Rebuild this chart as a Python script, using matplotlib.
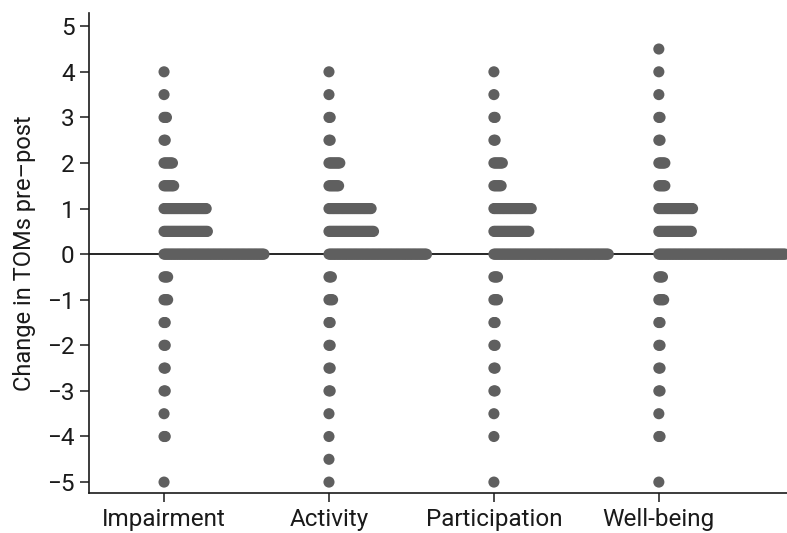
import numpy as np
import matplotlib
matplotlib.use("Agg")
import matplotlib.pyplot as plt

plt.rcParams['font.family'] = ['Roboto', 'DejaVu Sans']

# Outcome domains on the x axis
categories = ["Impairment", "Activity", "Participation", "Well-being"]

# Change scores (half-point steps) from top to bottom
levels = [4.5, 4.0, 3.5, 3.0, 2.5, 2.0, 1.5, 1.0, 0.5, 0.0,
          -0.5, -1.0, -1.5, -2.0, -2.5, -3.0, -3.5, -4.0, -4.5, -5.0]

# Number of patients at each change score, per domain
impairment_counts    = [0, 1, 1, 3, 2, 8, 9, 36, 37, 84, 4, 4, 2, 2, 2, 2, 1, 2, 0, 1]
activity_counts      = [0, 1, 1, 2, 2, 10, 9, 36, 38, 82, 3, 4, 2, 2, 2, 2, 1, 1, 1, 1]
participation_counts = [0, 1, 1, 2, 2, 8, 7, 32, 30, 96, 4, 4, 2, 2, 2, 2, 1, 1, 0, 1]
wellbeing_counts     = [1, 1, 1, 2, 2, 6, 6, 29, 28, 106, 4, 5, 2, 2, 2, 2, 1, 2, 0, 1]

y_ticks = [5, 4, 3, 2, 1, 0, -1, -2, -3, -4, -5]

all_counts = [impairment_counts, activity_counts, participation_counts, wellbeing_counts]

fig = plt.figure(figsize=(7.87, 5.33), dpi=100)
ax = fig.add_axes([0.1135, 0.0750, 0.8865, 0.9006])

dot_color = "#5f5f5f"
dot_step = 0.0073  # horizontal offset between stacked dots (data units)

ax.axhline(0, color="black", lw=1.2, zorder=1)

for i, counts in enumerate(all_counts):
    xs, ys = [], []
    for lvl, n in zip(levels, counts):
        for k in range(n):
            xs.append(i + k * dot_step)
            ys.append(lvl)
    ax.scatter(xs, ys, s=64, color=dot_color, edgecolors="none", zorder=3, clip_on=False)

ax.set_xlim(-0.453, 3.777)
ax.set_ylim(-5.24, 5.29)
ax.set_xticks(range(len(categories)))
ax.set_xticklabels(categories)
ax.set_yticks(y_ticks)
ax.set_yticklabels([str(t).replace('-', '\u2212') for t in y_ticks])
ax.set_ylabel("Change in TOMs pre\u2013post", fontsize=17, color="#1a1a1a", labelpad=8)

for side in ("top", "right"):
    ax.spines[side].set_visible(False)
for side in ("left", "bottom"):
    ax.spines[side].set_linewidth(1.2)
    ax.spines[side].set_color("#1a1a1a")

ax.tick_params(axis="both", direction="out", length=6.5, width=1.1, color="#1a1a1a",
               labelsize=17.5, labelcolor="#1a1a1a")
ax.tick_params(axis="y", pad=4)
ax.tick_params(axis="x", pad=4)

fig.savefig("out.png", dpi=100)
